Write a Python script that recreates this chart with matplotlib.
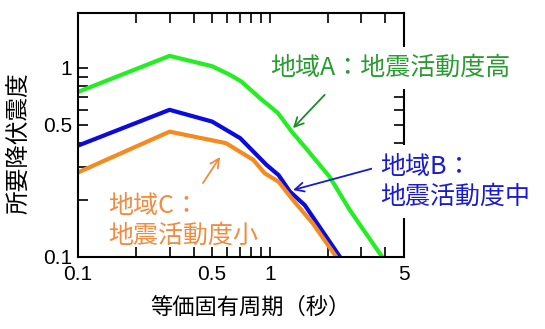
import matplotlib
matplotlib.use("Agg")
import matplotlib.pyplot as plt
from matplotlib.ticker import FixedLocator, FixedFormatter, NullFormatter

plt.rcParams['font.family'] = ['Liberation Sans', 'Noto Sans CJK JP']

# ---- data ----
green_x = [0.1, 0.3, 0.5, 0.62, 0.71, 0.89, 1.1, 1.3, 1.52, 2.05, 2.61, 3.85]
green_y = [0.746, 1.157, 1.02, 0.918, 0.847, 0.69, 0.578, 0.46, 0.382, 0.265, 0.177, 0.1]

blue_x = [0.1, 0.3, 0.5, 0.7, 0.96, 1.11, 1.27, 1.52, 2.32]
blue_y = [0.388, 0.6, 0.52, 0.425, 0.307, 0.271, 0.222, 0.188, 0.1]

orange_x = [0.1, 0.3, 0.59, 0.82, 0.94, 1.11, 1.32, 1.67, 2.22]
orange_y = [0.28, 0.46, 0.40, 0.326, 0.277, 0.25, 0.20, 0.151, 0.1]

x_major = [0.1, 0.5, 1, 5]
x_major_labels = ['0.1', '0.5', '1', '5']
x_minor = [0.2, 0.3, 0.4, 0.6, 0.7, 0.8, 0.9, 2, 3, 4]
y_major = [0.1, 0.5, 1]
y_major_labels = ['0.1', '0.5', '1']
y_minor = [0.2, 0.3, 0.4, 0.6, 0.7, 0.8, 0.9]

label_a = '地域A：地震活動度高'
label_b = '地域B：\n地震活動度中'
label_c = '地域C：\n地震活動度小'
xlabel = '等価固有周期（秒）'
ylabel = '所要降伏震度'

# ---- figure ----
W, H = 545, 329
fig = plt.figure(figsize=(W / 100, H / 100), dpi=100)
ax = fig.add_axes([78 / W, 1 - 257 / H, 326 / W, 244 / H])
ax.set_xscale('log')
ax.set_yscale('log')
ax.set_xlim(0.1, 5)
ax.set_ylim(0.1, 1.95)

c_green, c_blue, c_orange = '#22ee22', '#0b0bdd', '#f58a1f'
ax.plot(green_x, green_y, color=c_green, lw=3)
ax.plot(blue_x, blue_y, color=c_blue, lw=3)
ax.plot(orange_x, orange_y, color=c_orange, lw=3)

ax.xaxis.set_major_locator(FixedLocator(x_major))
ax.xaxis.set_major_formatter(FixedFormatter(x_major_labels))
ax.xaxis.set_minor_locator(FixedLocator(x_minor))
ax.xaxis.set_minor_formatter(NullFormatter())
ax.yaxis.set_major_locator(FixedLocator(y_major))
ax.yaxis.set_major_formatter(FixedFormatter(y_major_labels))
ax.yaxis.set_minor_locator(FixedLocator(y_minor))
ax.yaxis.set_minor_formatter(NullFormatter())

ax.tick_params(which='both', direction='in', top=True, right=True,
               length=7, width=1.2, labelsize=15)
ax.tick_params(axis='x', pad=6)
ax.tick_params(axis='y', pad=4)
for s in ax.spines.values():
    s.set_linewidth(1.5)

fig.text(250 / W, 1 - 307 / H, xlabel, ha='center', va='center', fontsize=16,
         family=['Noto Sans CJK JP'])
fig.text(19 / W, 1 - 143 / H, ylabel, ha='center', va='center', fontsize=17,
         rotation=90, family=['Noto Sans CJK JP'])

c_tg, c_tb, c_to = '#2a9a32', '#1a1ad0', '#ef8c40'
box = dict(facecolor='white', edgecolor='none', pad=6)
fs_lab = 18
ax.text(1.0, 1.0, label_a, color=c_tg, fontsize=fs_lab, ha='left', va='center',
        family=['Noto Sans CJK JP'], bbox=box, clip_on=False, zorder=5)
ax.text(3.74, 0.25, label_b, color=c_tb, fontsize=fs_lab, ha='left', va='center',
        family=['Noto Sans CJK JP'], bbox=box, clip_on=False, zorder=5,
        linespacing=1.2)
ax.text(0.143, 0.155, label_c, color=c_to, fontsize=fs_lab, ha='left', va='center',
        family=['Noto Sans CJK JP'], clip_on=False, zorder=5, linespacing=1.2)

arrow = dict(arrowstyle='->', lw=1.3, shrinkA=0, shrinkB=0, mutation_scale=16)
ax.annotate('', xy=(1.32, 0.48), xytext=(1.93, 0.72),
            arrowprops=dict(arrow, color='#1f8a2a'))
ax.annotate('', xy=(1.32, 0.226), xytext=(3.65, 0.299),
            arrowprops=dict(arrow, color=c_tb))
ax.annotate('', xy=(0.55, 0.338), xytext=(0.448, 0.246),
            arrowprops=dict(arrow, color=c_to))

fig.savefig('out.png', dpi=100)
